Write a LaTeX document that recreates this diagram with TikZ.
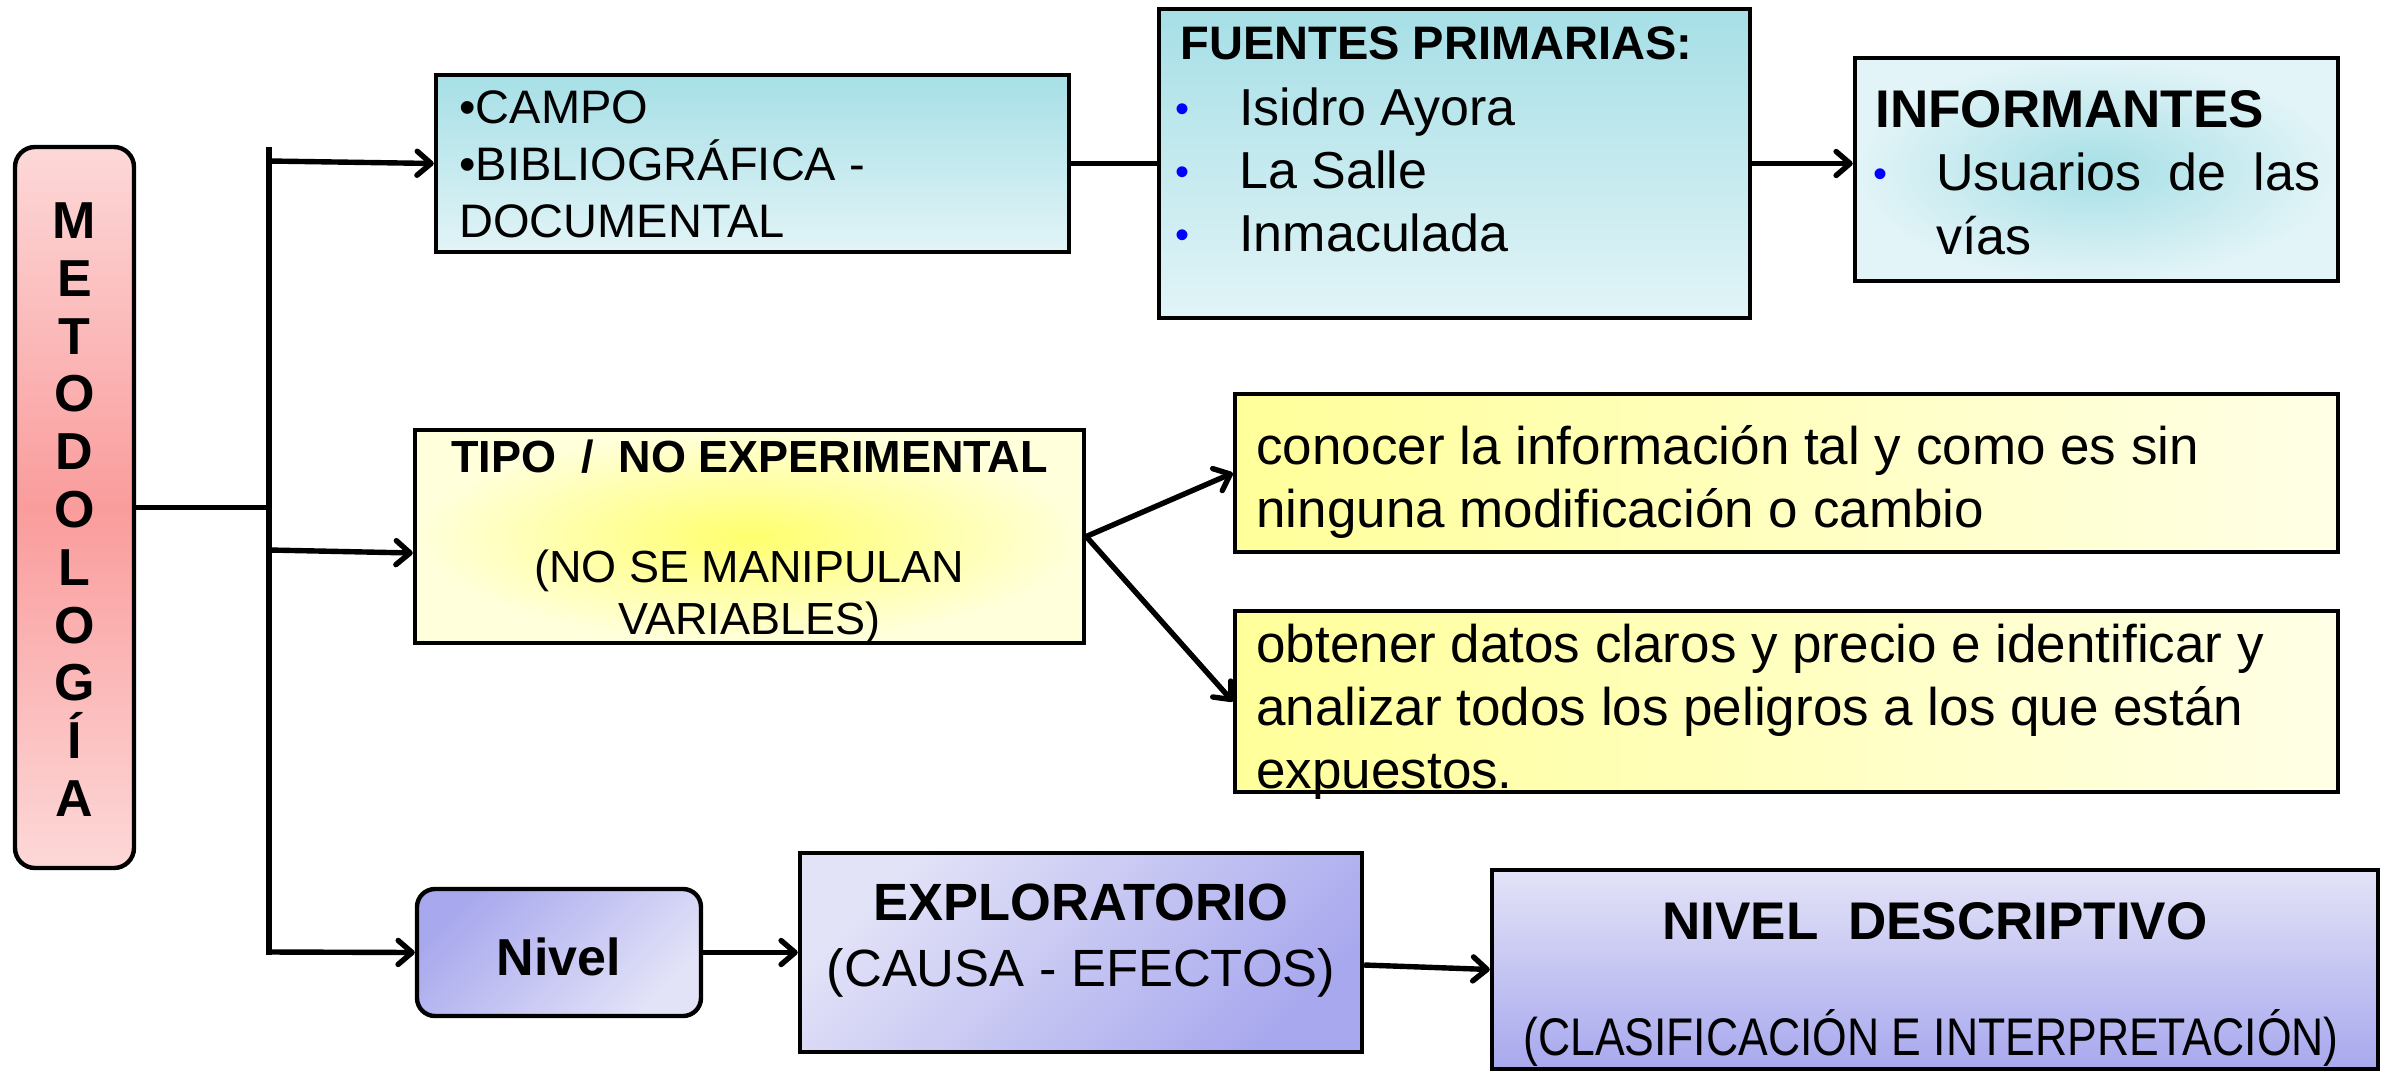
\documentclass[tikz,border=0pt]{standalone}
\usepackage{fontspec}
\setmainfont{Liberation Sans}
\newfontfamily\narrowfont[FakeStretch=0.84]{Liberation Sans}
\usetikzlibrary{arrows.meta,fit}
\definecolor{pinkL}{HTML}{FDD8D8}
\definecolor{pinkD}{HTML}{FA9C9C}
\definecolor{cyanD}{HTML}{A6DFE6}
\definecolor{cyanL}{HTML}{E2F4F7}
\definecolor{yelD}{HTML}{FFFF6E}
\definecolor{yelL}{HTML}{FFFFDC}
\definecolor{yelM}{HTML}{FFFF9A}
\definecolor{yelR}{HTML}{FFFFE6}
\definecolor{purD}{HTML}{A8A8EE}
\definecolor{purL}{HTML}{E3E3F8}
\definecolor{bblue}{HTML}{0000FF}
\newcommand\mybul[1]{\makebox[#1][l]{\hspace*{-2pt}\raisebox{1.5pt}{\color{bblue}\fontsize{20}{20}\selectfont •}}}
\begin{document}
\begin{tikzpicture}[x=0.5pt,y=-0.5pt,
  box/.style={draw=black, line width=2.2pt, inner sep=0pt},
  conn/.style={line width=2.7pt},
  arr/.style={conn, -{Straight Barb[length=7pt,width=12pt,round]}},
  txt/.style={inner sep=0pt, anchor=north west, align=left}]
\useasboundingbox (0,0) rectangle (2384,1072);

% boxes
\node[box, fit={(15,147) (134,868)}, rounded corners=10pt, top color=pinkL, bottom color=pinkL, middle color=pinkD] (met) {};
\node[box, fit={(436,75) (1069,252)}, top color=cyanD, bottom color=cyanL] (campo) {};
\node[box, fit={(1159,9) (1750,318)}, top color=cyanD, bottom color=cyanL] (fuentes) {};
\node[box, fit={(1855,58) (2338,281)}, inner color=cyanD, outer color=cyanL] (infor) {};
\node[box, fit={(415,430) (1084,643)}, inner color=yelD, outer color=yelL] (tipo) {};
\node[box, fit={(1235,394) (2338,552)}, left color=yelM, right color=yelR] (conocer) {};
\node[box, fit={(1235,611) (2338,792)}, left color=yelM, right color=yelR] (obtener) {};
\node[box, fit={(417,889) (701,1016)}, rounded corners=9pt, top color=purD, bottom color=purL, shading angle=45] (nivel) {};
\node[box, fit={(800,853) (1362,1052)}, top color=purL, bottom color=purD, shading angle=45] (explor) {};
\node[box, fit={(1492,870) (2378,1069)}, top color=purL, bottom color=purD] (desc) {};

% texts
\node[txt, anchor=north, align=center, font=\fontsize{26}{28.9}\selectfont\bfseries] (metT) at (74.5,186)
  {\rule{0pt}{26pt}M\\E\\T\\O\\D\\O\\L\\O\\G\\Í\\A};
\node[txt, font=\fontsize{23.5}{28.5}\selectfont] (campoT) at (459,76)
  {\rule{0pt}{23.5pt}•CAMPO\\•BIBLIOGRÁFICA -\\DOCUMENTAL};
\node[txt, font=\fontsize{23.5}{28.5}\selectfont\bfseries] (fuentesH) at (1180,12)
  {\rule{0pt}{23.5pt}FUENTES PRIMARIAS:};
\node[txt, font=\fontsize{26}{31.5}\selectfont] (fuentesL) at (1179,73)
  {\rule{0pt}{26pt}\mybul{30pt}Isidro Ayora\\\mybul{30pt}La Salle\\\mybul{30pt}Inmaculada};
\node[txt, font=\fontsize{26.5}{32}\selectfont\bfseries] (inforH) at (1875,74)
  {\rule{0pt}{26.5pt}INFORMANTES};
\node[txt, font=\fontsize{26}{32}\selectfont] (inforL) at (1877,138)
  {\rule{0pt}{26pt}\mybul{29.5pt}\makebox[192pt][s]{Usuarios de las}\\\hspace*{29.5pt}vías};
\node[txt, anchor=north, align=center, font=\fontsize{22.5}{26}\selectfont] (tipoT) at (749.5,427)
  {{\bfseries\rule{0pt}{22.5pt}TIPO\ \ /\ \ NO EXPERIMENTAL}\\[29pt](NO SE MANIPULAN\\VARIABLES)};
\node[txt, font=\fontsize{26.5}{31.5}\selectfont] (conocerT) at (1256,411)
  {\rule{0pt}{26.5pt}conocer la información tal y como es sin\\ninguna modificación o cambio};
\node[txt, font=\fontsize{26.5}{31.5}\selectfont] (obtenerT) at (1256,609)
  {\rule{0pt}{26.5pt}obtener datos claros y precio e identificar y\\analizar todos los peligros a los que están\\expuestos.};
\node[inner sep=0pt, anchor=base, font=\fontsize{26}{31}\selectfont\bfseries] (nivelT) at (559,975) {Nivel};
\node[txt, anchor=north, align=center, font=\fontsize{26.2}{33}\selectfont] (explorT) at (1081,868)
  {{\bfseries\rule{0pt}{26pt}EXPLORATORIO}\\(CAUSA - EFECTOS)};
\node[inner sep=0pt, anchor=base, font=\fontsize{26.5}{31}\selectfont\bfseries] (descH) at (1935,939) {NIVEL\ \ DESCRIPTIVO};
\node[inner sep=0pt, anchor=base, font=\fontsize{26.5}{31}\selectfont\narrowfont] (descT) at (1931,1055) {(CLASIFICACIÓN E INTERPRETACIÓN)};

% connectors
\coordinate (vtop) at (269,147);
\coordinate (vbot) at (269,955);
\coordinate (b1) at (269,161);
\coordinate (b2) at (269,550);
\coordinate (b3) at (269,952);
\draw[conn] (vtop) -- (vbot);
\draw[conn] (met.east) -- (met.east -| vtop);
\draw[arr] (b1) -- (campo.west);
\draw[arr] (b2) -- ([yshift=-8.25pt]tipo.west);
\draw[arr] (b3) -- (nivel.west);
\draw[conn] (campo.east) -- (fuentes.west);
\draw[arr] (fuentes.east) -- (fuentes.east -| infor.west);
\draw[arr] (tipo.east) -- (conocer.west);
\draw[arr] (tipo.east) -- (obtener.west);
\draw[arr] (nivel.east) -- (explor.west);
\draw[arr] ([yshift=-6.25pt]explor.east) -- (desc.west);
\end{tikzpicture}
\end{document}
